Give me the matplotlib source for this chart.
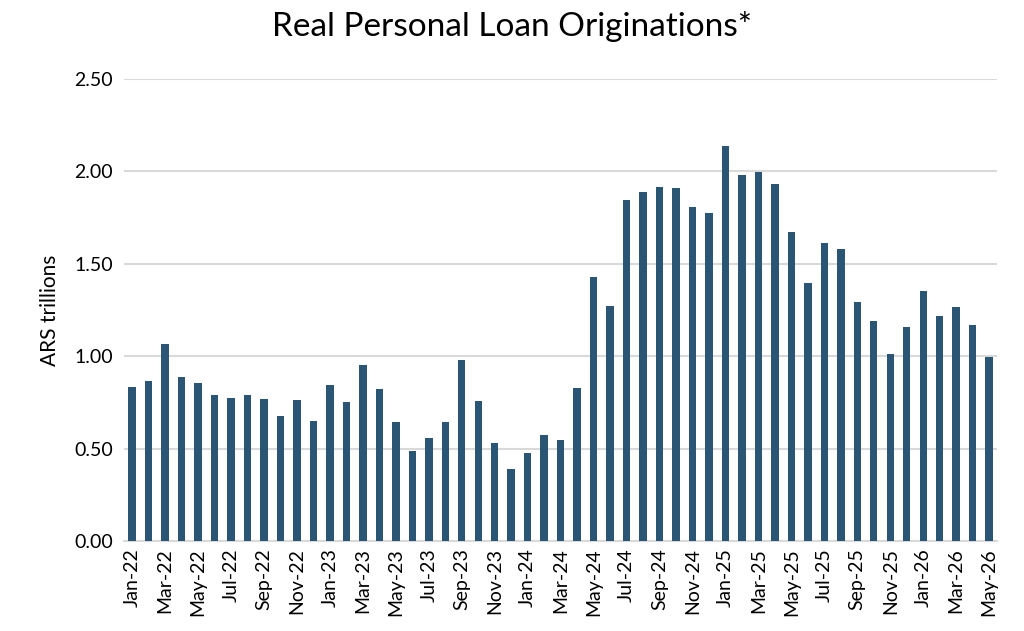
import matplotlib
matplotlib.use("Agg")
import matplotlib.pyplot as plt
import numpy as np

# monthly labels Jan-22 .. May-26
months = ['Jan', 'Feb', 'Mar', 'Apr', 'May', 'Jun',
          'Jul', 'Aug', 'Sep', 'Oct', 'Nov', 'Dec']
labels = []
for yr in [22, 23, 24, 25, 26]:
    for m in months:
        labels.append('{}-{}'.format(m, yr))
labels = labels[:53]

# ARS trillions
values = [0.834, 0.866, 1.065, 0.890, 0.857, 0.791, 0.776, 0.791, 0.769, 0.679,
          0.764, 0.652, 0.845, 0.751, 0.955, 0.823, 0.644, 0.487, 0.556, 0.646,
          0.978, 0.760, 0.531, 0.388, 0.477, 0.574, 0.547, 0.827, 1.426, 1.273,
          1.845, 1.886, 1.915, 1.908, 1.809, 1.773, 2.139, 1.982, 1.996, 1.933,
          1.670, 1.395, 1.610, 1.578, 1.291, 1.191, 1.014, 1.159, 1.354, 1.220,
          1.267, 1.171, 0.998]

yticks = [0.0, 0.5, 1.0, 1.5, 2.0, 2.5]

plt.rcParams['font.family'] = ['Lato', 'DejaVu Sans']

fig = plt.figure(figsize=(10.24, 6.31), dpi=100)
ax = fig.add_axes([0.121, 0.1426, 0.853, 0.7322])

x = np.arange(len(values))
ax.bar(x, values, width=0.45, color='#2b5574', zorder=3)

ax.set_xlim(-0.5, len(values) - 0.5)
ax.set_ylim(0, 2.5)
ax.set_yticks(yticks)
ax.set_yticklabels(['{:.2f}'.format(v) for v in yticks], fontsize=14)
ax.set_xticks(x[::2])
ax.set_xticklabels(labels[::2], rotation=90, fontsize=14)
ax.tick_params(length=0, pad=8)
ax.tick_params(axis='x', pad=5)

ax.grid(axis='y', color='#d9d9d9', linewidth=1.5, zorder=0)
for s in ['top', 'right', 'left']:
    ax.spines[s].set_visible(False)
ax.spines['bottom'].set_color('#d9d9d9')
ax.spines['bottom'].set_linewidth(1.5)

ax.set_ylabel('ARS trillions', fontsize=15, labelpad=10)
fig.text(0.5, 0.958, 'Real Personal Loan Originations*', ha='center', va='center',
         fontsize=24)

fig.savefig('out.png', dpi=100)
